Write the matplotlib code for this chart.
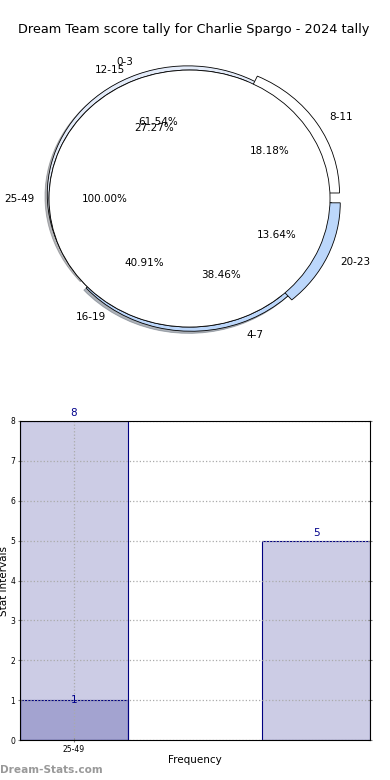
import numpy as np
import matplotlib
matplotlib.use('Agg')
import matplotlib.pyplot as plt

title = 'Dream Team score tally for Charlie Spargo - 2024 tally'

# pie layers, drawn one over the other
pie1_labels = ['0-3', '4-7']
pie1_values = [8, 5]
pie1_colors = ['#e4ecfa', '#bcd7fb']

pie2_labels = ['8-11', '12-15', '16-19', '20-23']
pie2_values = [4, 6, 9, 3]
pie2_colors = ['white', '#e4ecfa', 'white', '#bcd7fb']

pie3_labels = ['25-49']
pie3_values = [1]
pie3_colors = ['white']

# bar chart
bar_ticks = ['25-49']
bar_counts = [8, 5]
latest_counts = [1]

fig = plt.figure(figsize=(3.9, 7.8), dpi=100)
fig.text(0.497, 1 - 30 / 780, title, ha='center', va='center', fontsize=9.3)

# ---- pie ----
ax1 = fig.add_axes([0.0176, 0.5313, 0.9367, 0.4283])
wp = dict(edgecolor='black', linewidth=0.6)
tp = dict(fontsize=7.5)
ax1.pie(pie1_values, labels=pie1_labels, colors=pie1_colors, autopct='%.2f%%',
        explode=[0.035, 0.035], wedgeprops=wp, textprops=tp,
        shadow={'ox': -0.012, 'oy': -0.012, 'shade': 0.6, 'alpha': 0.45})
ax1.pie(pie2_values, labels=pie2_labels, colors=pie2_colors, autopct='%.2f%%',
        explode=[0.08, 0, 0, 0.08], wedgeprops=wp, textprops=tp)
ax1.pie(pie3_values, labels=pie3_labels, colors=pie3_colors, autopct='%.2f%%',
        wedgeprops=wp, textprops=tp)
ax1.set_aspect('auto')
ax1.set_xlim(-1.3, 1.3)
ax1.set_ylim(-1.3, 1.3)

# ---- bars ----
ax2 = fig.add_axes([20 / 390, 40 / 780, 350 / 390, 319 / 780])
x = np.arange(len(bar_counts))
fc = (0, 0, 0.5, 0.2)
ax2.bar(x, bar_counts, width=0.444, facecolor=fc, edgecolor='navy', linewidth=0.8)
ax2.bar(x[:len(latest_counts)], latest_counts, width=0.444, facecolor=fc,
        edgecolor='navy', linewidth=0.8)
for xi, v in zip(x, bar_counts):
    ax2.annotate(str(v), (xi, v), xytext=(0, 2), textcoords='offset points',
                 ha='center', va='bottom', color='darkblue', fontsize=7.5)
for xi, v in zip(x, latest_counts):
    ax2.text(xi, v, str(v), ha='center', va='center', color='darkblue', fontsize=7.5)

ax2.set_xlim(-0.222, 1.222)
ax2.set_ylim(0, 8)
ax2.set_xticks([0])
ax2.set_xticklabels(bar_ticks)
ax2.set_yticks(range(0, 9))
ax2.grid(True, linestyle=':', color='#aaaaaa', linewidth=0.9)
ax2.tick_params(direction='inout', length=3, color='gray', right=True, labelsize=5.5, pad=2)
ax2.set_xlabel('Frequency', fontsize=7.5, labelpad=1)
ax2.set_ylabel('Stat Intervals', fontsize=7.5)
ax2.yaxis.set_label_coords(-0.031, 0.5)

fig.text(0.0, 1 - 770 / 780, 'Dream-Stats.com', color='#999999', fontsize=7.6,
         fontweight='bold', ha='left', va='center')

plt.savefig('out.png', dpi=100)
